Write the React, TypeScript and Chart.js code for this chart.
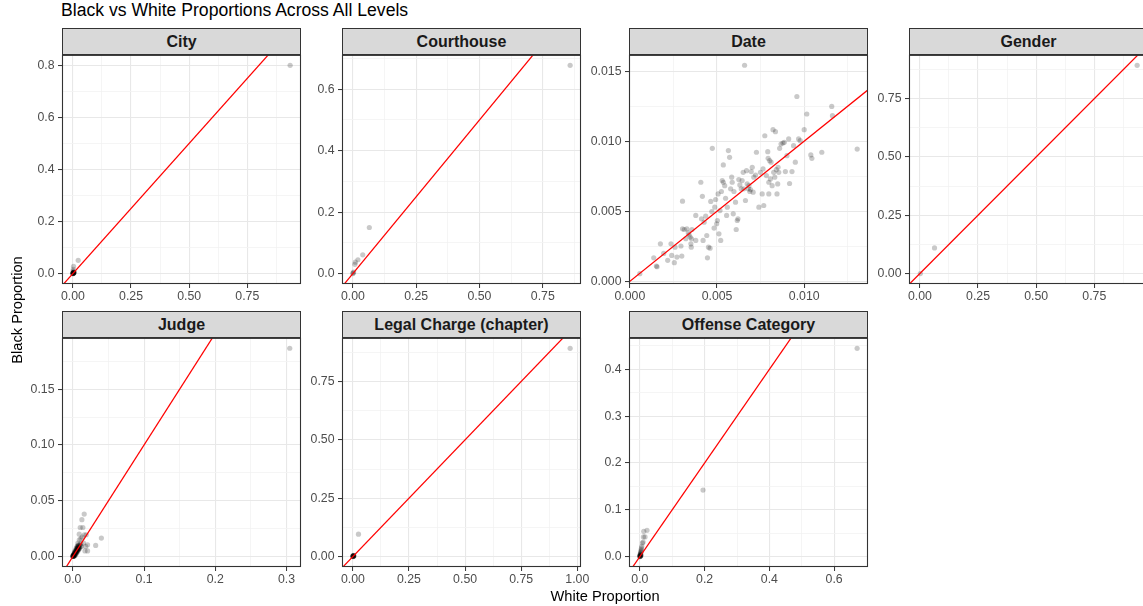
import React, { useEffect, useRef } from "react";
import { Chart, registerables } from "chart.js";

Chart.register(...registerables);

const FONT = '"Liberation Sans", Arial, Helvetica, sans-serif';

// ---------------- data (white proportion = x, black proportion = y) ----------------
const cityWhite = [0.934, 0.023, 0.003, 0.002, 0.001, 0, 0.001, 0.002, 0.001, 0.003, 0.002, 0.004, 0.005, 0, 0.002, 0.003, 0.006, 0.001, 0, 0.004, 0.003, 0.002];
const cityBlack = [0.8, 0.051, 0.028, 0.016, 0.01, 0, 0.001, 0.001, 0.003, 0.002, 0.004, 0.003, 0.005, 0.002, 0, 0.006, 0.004, 0, 0.001, 0.006, 0.003, 0.002];

const courthouseWhite = [0.858, 0.065, 0.039, 0.02, 0.01, 0.008, 0.003, 0.001, 0];
const courthouseBlack = [0.678, 0.15, 0.061, 0.045, 0.037, 0.03, 0.005, 0.002, 0];

const dateWhite = [
  0.00057, 0.00137, 0.00152, 0.00156, 0.00175, 0.00194, 0.00217, 0.00236, 0.0024, 0.00255,
  0.00259, 0.0027, 0.00293, 0.00298, 0.00302, 0.00302, 0.00312, 0.00321, 0.00327, 0.00335,
  0.0034, 0.00346, 0.0035, 0.00352, 0.00354, 0.00356, 0.00378, 0.00378, 0.00407, 0.00411,
  0.00416, 0.0042, 0.00426, 0.00435, 0.00441, 0.00445, 0.00451, 0.0046, 0.00464, 0.0047,
  0.00473, 0.00483, 0.00487, 0.00492, 0.00498, 0.00502, 0.00506, 0.00511, 0.00517, 0.00521,
  0.00525, 0.0053, 0.00536, 0.00536, 0.00544, 0.00549, 0.00555, 0.00559, 0.00565, 0.00572,
  0.00578, 0.00584, 0.00587, 0.00593, 0.00597, 0.00606, 0.0061, 0.00616, 0.0062, 0.00625,
  0.00631, 0.00639, 0.00644, 0.0065, 0.00654, 0.00658, 0.00663, 0.00669, 0.00673, 0.00679,
  0.00683, 0.00688, 0.00692, 0.00696, 0.00702, 0.00707, 0.00711, 0.00721, 0.00726, 0.0074,
  0.00749, 0.00759, 0.00764, 0.00768, 0.00774, 0.00783, 0.00791, 0.00793, 0.00797, 0.00797,
  0.00802, 0.00806, 0.0081, 0.00816, 0.00821, 0.00825, 0.00831, 0.00835, 0.0084, 0.00844,
  0.00848, 0.0085, 0.00854, 0.00859, 0.00867, 0.00878, 0.00886, 0.00892, 0.00901, 0.00911,
  0.00916, 0.0093, 0.00939, 0.00949, 0.00958, 0.00968, 0.00977, 0.01, 0.01015, 0.01038,
  0.01044, 0.01101, 0.01158, 0.01162, 0.01304,
];
const dateBlack = [
  0.00055, 0.00168, 0.00109, 0.00104, 0.00268, 0.00199, 0.0015, 0.00268, 0.00185, 0.00133,
  0.00244, 0.00173, 0.00252, 0.0018, 0.00572, 0.00375, 0.0037, 0.00304, 0.00375, 0.00346,
  0.00332, 0.00316, 0.00268, 0.00244, 0.00304, 0.0037, 0.0047, 0.00292, 0.00707, 0.00446,
  0.00607, 0.00292, 0.00422, 0.00465, 0.00327, 0.00168, 0.00244, 0.00237, 0.0057, 0.00498,
  0.00949, 0.0038, 0.00529, 0.00584, 0.00411, 0.00434, 0.00624, 0.00339, 0.00505, 0.00292,
  0.00641, 0.00719, 0.00831, 0.00707, 0.00683, 0.00593, 0.0047, 0.00529, 0.00933, 0.00885,
  0.0066, 0.00743, 0.00707, 0.00482, 0.00641, 0.00565, 0.0037, 0.00434, 0.00446, 0.00726,
  0.00688, 0.0066, 0.00719, 0.00778, 0.0066, 0.01542, 0.00577, 0.0079, 0.00695, 0.0066,
  0.00683, 0.00641, 0.00655, 0.00783, 0.00814, 0.00636, 0.00743, 0.00759, 0.00921, 0.00529,
  0.00778, 0.00624, 0.00802, 0.00541, 0.01039, 0.00755, 0.00925, 0.00878, 0.00707, 0.00624,
  0.00861, 0.00731, 0.0085, 0.00683, 0.01082, 0.00778, 0.00743, 0.01068, 0.00797, 0.00624,
  0.00695, 0.00814, 0.00778, 0.00949, 0.0098, 0.00987, 0.00992, 0.00783, 0.00897, 0.01016,
  0.00698, 0.00783, 0.00968, 0.0085, 0.01319, 0.01016, 0.01004, 0.01082, 0.01194, 0.00902,
  0.00878, 0.00921, 0.01248, 0.01182, 0.00944,
];

const genderWhite = [0.934, 0.063, 0.002];
const genderBlack = [0.893, 0.11, 0];

const judgeWhite = [
  0.3045, 0.0159, 0.0126, 0.0103, 0.014, 0.0187, 0.016, 0.0089, 0.0112, 0.0206, 0.04, 0.032, 0.0206, 0.017, 0.015, 0.009, 0.007, 0.012, 0.018, 0.013, 0.006,
  0.0005, 0.0008, 0.001, 0.0012, 0.0015, 0.0018, 0.002, 0.0022, 0.0025, 0.0028,
  0.003, 0.0032, 0.0035, 0.0038, 0.004, 0.0042, 0.0045, 0.0048, 0.005, 0.0052,
  0.0055, 0.0058, 0.006, 0.0062, 0.0065, 0.0068, 0.007, 0.0072, 0.0075, 0.0078,
  0.008, 0.0085, 0.009, 0.0095, 0.01, 0.0105, 0.011, 0.0002, 0.0001, 0,
  0, 0.0005, 0.0003, 0.0012, 0.0006, 0.002, 0.0015, 0.003, 0.0025, 0.004,
  0.0035, 0.005, 0.0045, 0.006, 0.0055, 0.007, 0.0065, 0.008, 0.0075, 0.009,
  0.0032, 0.0042, 0.0052, 0.0062, 0.0022, 0.0012, 0.0072, 0.0082,
];
const judgeBlack = [
  0.1866, 0.038, 0.033, 0.026, 0.026, 0.0195, 0.0195, 0.02, 0.016, 0.0105, 0.0165, 0.0099, 0.005, 0.005, 0.012, 0.015, 0.012, 0.009, 0.009, 0.0175, 0.009,
  0.0003, 0.0006, 0.0012, 0.0008, 0.0015, 0.001, 0.0022, 0.0015, 0.0028, 0.002,
  0.0035, 0.0025, 0.004, 0.003, 0.0045, 0.0035, 0.005, 0.004, 0.006, 0.0045,
  0.0065, 0.005, 0.007, 0.0055, 0.0075, 0.006, 0.008, 0.0065, 0.0085, 0.007,
  0.0095, 0.0075, 0.01, 0.008, 0.0105, 0.009, 0.0115, 0.0001, 0.0002, 0,
  0.0005, 0, 0.0008, 0.0003, 0.0015, 0.0005, 0.003, 0.001, 0.0045, 0.002,
  0.0055, 0.003, 0.007, 0.004, 0.008, 0.005, 0.009, 0.006, 0.0105, 0.007,
  0.0032, 0.0042, 0.0052, 0.0062, 0.0022, 0.0012, 0.0072, 0.0082,
];

const chargeWhite = [0.968, 0.025, 0, 0.001, 0.002, 0.003, 0.001, 0.004, 0.002, 0, 0.005, 0.003, 0.002, 0.001];
const chargeBlack = [0.892, 0.096, 0, 0.001, 0.003, 0.002, 0.002, 0.004, 0, 0.002, 0.003, 0.005, 0.002, 0.004];

const offenseWhite = [0.671, 0.195, 0.022, 0.012, 0.016, 0.011, 0.01, 0.008, 0.006, 0.005, 0.004, 0.004, 0.003, 0.002, 0.002, 0.001, 0.001, 0, 0.001, 0, 0.002, 0.003, 0.0005, 0, 0.001, 0.004, 0.002];
const offenseBlack = [0.445, 0.142, 0.056, 0.054, 0.042, 0.042, 0.031, 0.029, 0.022, 0.018, 0.015, 0.012, 0.01, 0.008, 0.006, 0.005, 0.003, 0.002, 0.001, 0, 0.001, 0.002, 0.0005, 0.001, 0, 0.004, 0.003];

// ---------------- axis ticks ----------------
const quarterTicks = [0, 0.25, 0.5, 0.75];
const quarterLabels = ["0.00", "0.25", "0.50", "0.75"];
const quarterMinor = [0.125, 0.375, 0.625, 0.875];

const cityYTicks = [0, 0.2, 0.4, 0.6, 0.8];
const cityYLabels = ["0.0", "0.2", "0.4", "0.6", "0.8"];
const cityYMinor = [0.1, 0.3, 0.5, 0.7];

const courthouseYTicks = [0, 0.2, 0.4, 0.6];
const courthouseYLabels = ["0.0", "0.2", "0.4", "0.6"];
const courthouseYMinor = [0.1, 0.3, 0.5, 0.7];

const dateXTicks = [0, 0.005, 0.01];
const dateXLabels = ["0.000", "0.005", "0.010"];
const dateXMinor = [0.0025, 0.0075, 0.0125];
const dateYTicks = [0, 0.005, 0.01, 0.015];
const dateYLabels = ["0.000", "0.005", "0.010", "0.015"];
const dateYMinor = [0.0025, 0.0075, 0.0125];

const judgeXTicks = [0, 0.1, 0.2, 0.3];
const judgeXLabels = ["0.0", "0.1", "0.2", "0.3"];
const judgeXMinor = [0.05, 0.15, 0.25];
const judgeYTicks = [0, 0.05, 0.1, 0.15];
const judgeYLabels = ["0.00", "0.05", "0.10", "0.15"];
const judgeYMinor = [0.025, 0.075, 0.125, 0.175];

const chargeXTicks = [0, 0.25, 0.5, 0.75, 1];
const chargeXLabels = ["0.00", "0.25", "0.50", "0.75", "1.00"];
const chargeXMinor = [0.125, 0.375, 0.625, 0.875];

const offenseXTicks = [0, 0.2, 0.4, 0.6];
const offenseXLabels = ["0.0", "0.2", "0.4", "0.6"];
const offenseXMinor = [0.1, 0.3, 0.5];
const offenseYTicks = [0, 0.1, 0.2, 0.3, 0.4];
const offenseYLabels = ["0.0", "0.1", "0.2", "0.3", "0.4"];
const offenseYMinor = [0.05, 0.15, 0.25, 0.35, 0.45];

// ---------------- layout ----------------
const COLS = [62, 342, 629, 909];
const ROWS = [54, 337];
const PW = 239;
const PH = 230;
const STRIP_H = 27;
const Y_AXIS_W = 50;
const X_AXIS_H = 26;
const PAD_T = 10;
const PAD_R = 24;

type AxisSpec = { range: [number, number]; ticks: number[]; labels: string[]; minor: number[] };
type PanelSpec = {
  title: string;
  white: number[];
  black: number[];
  x: AxisSpec;
  y: AxisSpec;
  col: number;
  row: number;
};

const panels: PanelSpec[] = [
  {
    title: "City", white: cityWhite, black: cityBlack, col: 0, row: 0,
    x: { range: [-0.0467, 0.9807], ticks: quarterTicks, labels: quarterLabels, minor: quarterMinor },
    y: { range: [-0.04, 0.84], ticks: cityYTicks, labels: cityYLabels, minor: cityYMinor },
  },
  {
    title: "Courthouse", white: courthouseWhite, black: courthouseBlack, col: 1, row: 0,
    x: { range: [-0.0429, 0.9009], ticks: quarterTicks, labels: quarterLabels, minor: quarterMinor },
    y: { range: [-0.0339, 0.7119], ticks: courthouseYTicks, labels: courthouseYLabels, minor: courthouseYMinor },
  },
  {
    title: "Date", white: dateWhite, black: dateBlack, col: 2, row: 0,
    x: { range: [-0.00005, 0.01366], ticks: dateXTicks, labels: dateXLabels, minor: dateXMinor },
    y: { range: [-0.00019, 0.01616], ticks: dateYTicks, labels: dateYLabels, minor: dateYMinor },
  },
  {
    title: "Gender", white: genderWhite, black: genderBlack, col: 3, row: 0,
    x: { range: [-0.0467, 0.9807], ticks: quarterTicks, labels: quarterLabels, minor: quarterMinor },
    y: { range: [-0.0447, 0.9377], ticks: quarterTicks, labels: quarterLabels, minor: quarterMinor },
  },
  {
    title: "Judge", white: judgeWhite, black: judgeBlack, col: 0, row: 1,
    x: { range: [-0.0153, 0.3203], ticks: judgeXTicks, labels: judgeXLabels, minor: judgeXMinor },
    y: { range: [-0.0094, 0.1959], ticks: judgeYTicks, labels: judgeYLabels, minor: judgeYMinor },
  },
  {
    title: "Legal Charge (chapter)", white: chargeWhite, black: chargeBlack, col: 1, row: 1,
    x: { range: [-0.0484, 1.0164], ticks: chargeXTicks, labels: chargeXLabels, minor: chargeXMinor },
    y: { range: [-0.0446, 0.9366], ticks: quarterTicks, labels: quarterLabels, minor: quarterMinor },
  },
  {
    title: "Offense Category", white: offenseWhite, black: offenseBlack, col: 2, row: 1,
    x: { range: [-0.0336, 0.7046], ticks: offenseXTicks, labels: offenseXLabels, minor: offenseXMinor },
    y: { range: [-0.0223, 0.4673], ticks: offenseYTicks, labels: offenseYLabels, minor: offenseYMinor },
  },
];

const panelBorder = {
  id: "panelBorder",
  afterDraw(chart: any) {
    const { ctx, chartArea } = chart;
    const { left, top, right, bottom } = chartArea;
    ctx.save();
    ctx.strokeStyle = "#333333";
    ctx.lineWidth = 1.1;
    ctx.strokeRect(left + 0.5, top + 0.5, right - left - 1, bottom - top - 1);
    ctx.restore();
  },
};

function makeAxis(spec: AxisSpec, isX: boolean) {
  const isMajor = (v: number | undefined) =>
    v !== undefined && spec.ticks.some((m) => Math.abs(m - v) < 1e-9);
  return {
    type: "linear" as const,
    min: spec.range[0],
    max: spec.range[1],
    afterBuildTicks: (scale: any) => {
      scale.ticks = [...spec.ticks, ...spec.minor]
        .filter((v) => v >= spec.range[0] && v <= spec.range[1])
        .sort((a, b) => a - b)
        .map((v) => ({ value: v }));
    },
    afterFit: (scale: any) => {
      if (isX) scale.height = X_AXIS_H;
      else scale.width = Y_AXIS_W;
    },
    border: { display: false },
    grid: {
      color: (c: any) => (isMajor(c.tick?.value) ? "#e8e8e8" : "#f2f2f2"),
      lineWidth: (c: any) => (isMajor(c.tick?.value) ? 1.1 : 0.8),
      tickColor: (c: any) => (isMajor(c.tick?.value) ? "#333333" : "rgba(0,0,0,0)"),
      tickLength: 4,
      tickWidth: 1,
      drawTicks: true,
    },
    ticks: {
      autoSkip: false,
      maxRotation: 0,
      minRotation: 0,
      padding: isX ? 1.5 : 3.5,
      color: "#4d4d4d",
      font: { family: FONT, size: 12.3 },
      callback: (v: any) => {
        const i = spec.ticks.findIndex((m) => Math.abs(m - Number(v)) < 1e-9);
        return i >= 0 ? spec.labels[i] : "";
      },
    },
  };
}

function Panel({ spec }: { spec: PanelSpec }) {
  const ref = useRef<HTMLCanvasElement>(null);
  const plotLeft = COLS[spec.col];
  const plotTop = ROWS[spec.row];
  const cw = PW + Y_AXIS_W + PAD_R;
  const ch = PH + PAD_T + X_AXIS_H;

  useEffect(() => {
    const canvas = ref.current;
    if (!canvas) return;
    const lo = Math.min(spec.x.range[0], spec.y.range[0]);
    const hi = Math.max(spec.x.range[1], spec.y.range[1]);
    const chart = new Chart(canvas, {
      type: "scatter",
      data: {
        datasets: [
          {
            data: [{ x: lo, y: lo }, { x: hi, y: hi }],
            showLine: true,
            borderColor: "#ff0000",
            borderWidth: 1.25,
            pointRadius: 0,
            clip: 0,
            order: 0,
          } as any,
          {
            data: spec.white.map((w, i) => ({ x: w, y: spec.black[i] })),
            backgroundColor: "rgba(0,0,0,0.21)",
            borderWidth: 0,
            pointRadius: 2.6,
            order: 1,
          } as any,
        ],
      },
      options: {
        responsive: false,
        animation: false,
        events: [],
        layout: { padding: { top: PAD_T, right: PAD_R, left: 0, bottom: 0 } },
        plugins: { legend: { display: false }, tooltip: { enabled: false }, title: { display: false } },
        scales: {
          x: makeAxis(spec.x, true) as any,
          y: makeAxis(spec.y, false) as any,
        },
      },
      plugins: [panelBorder],
    });
    return () => chart.destroy();
  }, [spec]);

  return (
    <>
      <canvas
        ref={ref}
        width={cw}
        height={ch}
        style={{ position: "absolute", left: plotLeft - Y_AXIS_W, top: plotTop - PAD_T, width: cw, height: ch }}
      />
      <div
        style={{
          position: "absolute",
          left: plotLeft,
          top: plotTop - STRIP_H + 1,
          width: PW,
          height: STRIP_H,
          boxSizing: "border-box",
          background: "#d9d9d9",
          border: "1.1px solid #333333",
          color: "#1a1a1a",
          fontFamily: FONT,
          fontWeight: "bold",
          fontSize: 16,
          lineHeight: `${STRIP_H - 2}px`,
          textAlign: "center",
          whiteSpace: "nowrap",
        }}
      >
        {spec.title}
      </div>
    </>
  );
}

export default function App() {
  return (
    <div
      style={{
        position: "absolute",
        left: 0,
        top: 0,
        width: 1143,
        height: 606,
        overflow: "hidden",
        background: "#ffffff",
        fontFamily: FONT,
      }}
    >
      <div
        style={{
          position: "absolute",
          left: 61,
          top: 0,
          fontSize: 17.6,
          lineHeight: "20px",
          color: "#000000",
          whiteSpace: "nowrap",
        }}
      >
        Black vs White Proportions Across All Levels
      </div>
      {panels.map((p) => (
        <Panel key={p.title} spec={p} />
      ))}
      <div
        style={{
          position: "absolute",
          left: 505,
          top: 587,
          width: 200,
          textAlign: "center",
          fontSize: 14.67,
          lineHeight: "18px",
          color: "#000000",
          whiteSpace: "nowrap",
        }}
      >
        White Proportion
      </div>
      <div
        style={{
          position: "absolute",
          left: 17 - 100,
          top: 310 - 9,
          width: 200,
          height: 18,
          textAlign: "center",
          fontSize: 14.67,
          lineHeight: "18px",
          color: "#000000",
          whiteSpace: "nowrap",
          transform: "rotate(-90deg)",
        }}
      >
        Black Proportion
      </div>
    </div>
  );
}
